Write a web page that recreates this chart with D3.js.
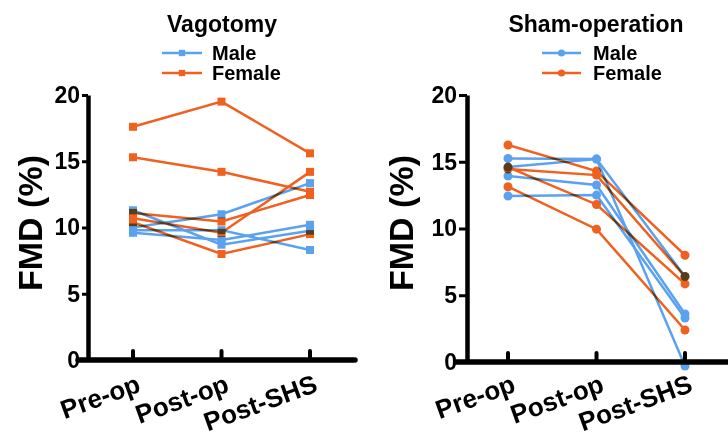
<!DOCTYPE html>
<meta charset="utf-8">
<style>
    body {
        margin: 0;
        background: #fff;
    }

    svg {
        font-family: "Liberation Sans", Arial, Helvetica, sans-serif;
        font-weight: bold;
    }

    .axis path,
    .axis line {
        fill: none;
        stroke: black;
    }

    .males {
        mix-blend-mode: multiply;
    }
</style>
<body>
<script src="https://cdn.jsdelivr.net/npm/d3@7"></script>
<script>
    // time points on the x axis
    const categories = ["Pre-op", "Post-op", "Post-SHS"];
    const yTicks = [0, 5, 10, 15, 20];
    const seriesNames = ["Male", "Female"];

    // FMD (%) per animal: [pre-op, post-op, post-SHS]
    const vagotomyMale = [
        [11.3, 8.7, 9.76],
        [10.0, 11.0, 13.35],
        [9.8, 9.8, 8.3],
        [9.6, 9.05, 10.2]
    ];
    const vagotomyFemale = [
        [17.6, 19.5, 15.6],
        [15.3, 14.2, 12.7],
        [11.1, 10.45, 12.45],
        [10.7, 9.6, 14.2],
        [10.4, 8.0, 9.5]
    ];
    const shamMale = [
        [15.25, 15.2, 6.4],
        [14.6, 15.2, -0.3],
        [13.93, 13.26, 3.6],
        [12.43, 12.5, 3.3]
    ];
    const shamFemale = [
        [16.25, 14.3, 8.0],
        [14.45, 14.0, 6.4],
        [14.6, 11.8, 5.85],
        [13.13, 9.95, 2.4]
    ];

    const blue = "#5aa2f0";
    const orange = "#f0601e";

    // layout of the two panels
    const panels = [
        {
            title: "Vagotomy", male: vagotomyMale, female: vagotomyFemale, symbol: d3.symbolSquare,
            axisX: 88, cats: [133, 310], xLine: [78, 355], yRange: [360, 95],
            centerX: 222, legendLine: [162, 202], legendText: 212, labelX: 30, tickSize: 6, tickPad: 2
        },
        {
            title: "Sham-operation", male: shamMale, female: shamFemale, symbol: d3.symbolCircle,
            axisX: 467, cats: [508, 685], xLine: [456, 745], yRange: [362, 95],
            centerX: 596, legendLine: [542, 581], legendText: 593, labelX: 401, tickSize: 8, tickPad: 2
        }
    ];

    const svg = d3.select("body")
        .append("svg")
        .attr("width", 728)
        .attr("height", 444);

    panels.forEach(p => {
        const g = svg.append("g");

        const x = d3.scalePoint().domain(categories).range(p.cats);
        const y = d3.scaleLinear().domain([0, 20]).range(p.yRange);

        // title
        g.append("text")
            .attr("x", p.centerX)
            .attr("y", 32)
            .attr("text-anchor", "middle")
            .style("font-size", "23px")
            .text(p.title);

        // legend
        const legend = g.selectAll(".legend")
            .data(seriesNames)
            .enter().append("g")
            .attr("class", "legend")
            .attr("transform", (d, i) => "translate(0," + (53 + i * 20) + ")");

        legend.append("line")
            .attr("x1", p.legendLine[0])
            .attr("x2", p.legendLine[1])
            .style("stroke", (d, i) => i === 0 ? blue : orange)
            .style("stroke-width", 2.5);

        legend.append("path")
            .attr("transform", "translate(" + (p.legendLine[0] + p.legendLine[1]) / 2 + ",0)")
            .attr("d", d3.symbol().type(p.symbol).size(40))
            .style("fill", (d, i) => i === 0 ? blue : orange);

        legend.append("text")
            .attr("x", p.legendText)
            .attr("dy", "0.36em")
            .style("font-size", "20px")
            .text(d => d);

        // y axis
        const yAxis = g.append("g")
            .attr("class", "axis")
            .attr("transform", "translate(" + p.axisX + ",0)")
            .call(d3.axisLeft(y).tickValues(yTicks).tickSize(p.tickSize).tickSizeOuter(0).tickPadding(p.tickPad));
        yAxis.select(".domain").style("stroke-width", 4.5);
        yAxis.selectAll(".tick line").style("stroke-width", 3);
        yAxis.selectAll(".tick text")
            .style("font-size", "23px")
            .style("font-family", "'Liberation Sans Narrow', 'Liberation Sans', Arial, sans-serif")
            .attr("fill", "black");

        // x axis: long base line, ticks pointing up
        g.append("line")
            .attr("x1", p.xLine[0])
            .attr("x2", p.xLine[1])
            .attr("y1", y(0))
            .attr("y2", y(0))
            .style("stroke", "black")
            .style("stroke-width", 5.5)
            .style("stroke-linecap", "round");

        g.selectAll(".xtick")
            .data(categories)
            .enter().append("line")
            .attr("class", "xtick")
            .attr("x1", d => x(d))
            .attr("x2", d => x(d))
            .attr("y1", y(0))
            .attr("y2", y(0) - 9)
            .style("stroke", "black")
            .style("stroke-width", 4)
            .style("stroke-linecap", "round");

        g.selectAll(".xlabel")
            .data(categories)
            .enter().append("text")
            .attr("class", "xlabel")
            .attr("text-anchor", "end")
            .attr("transform", d => "translate(" + (x(d) + 9) + ",391) rotate(-20)")
            .style("font-size", "26px")
            .text(d => d);

        // y axis title
        g.append("text")
            .attr("transform", "translate(" + p.labelX + "," + 223 + ") rotate(-90)")
            .attr("text-anchor", "middle")
            .attr("dy", "0.36em")
            .style("font-size", "34px")
            .text("FMD (%)");

        // data: females first, males on top blended so overlaps turn dark
        const line = d3.line()
            .x((d, i) => x(categories[i]))
            .y(d => y(d));

        [[p.female, orange, "females"], [p.male, blue, "males"]].forEach(s => {
            const grp = g.append("g").attr("class", s[2]);

            grp.selectAll(".series")
                .data(s[0])
                .enter().append("path")
                .attr("d", line)
                .style("fill", "none")
                .style("stroke", s[1])
                .style("stroke-width", 2.5);

            s[0].forEach(row => {
                grp.selectAll(null)
                    .data(row)
                    .enter().append("path")
                    .attr("transform", (d, i) => "translate(" + x(categories[i]) + "," + y(d) + ")")
                    .attr("d", d3.symbol().type(p.symbol).size(64))
                    .style("fill", s[1]);
            });
        });
    });
</script>
</body>
</html>
